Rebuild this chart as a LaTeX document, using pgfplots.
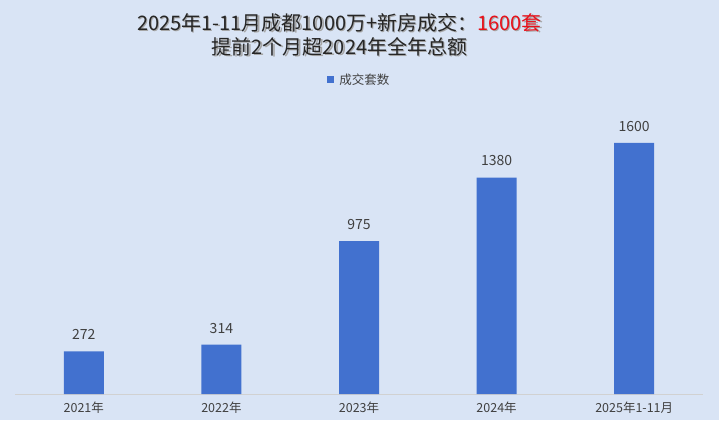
\documentclass[border=0pt]{standalone}
\usepackage{fontspec}
\setmainfont{Noto Sans CJK SC}
\usepackage{pgfplots}
\pgfplotsset{compat=1.18}
\definecolor{bg}{HTML}{D9E4F5}
\definecolor{bar}{HTML}{4271CF}
\definecolor{txt}{HTML}{404040}
\definecolor{ttl}{HTML}{262626}
\definecolor{hl}{HTML}{E8101A}
\newcommand{\titleA}[1]{2025年1-11月成都1000万+新房成交：\textcolor{#1}{1600套}}
\begin{document}
\begin{tikzpicture}[x=1pt,y=1pt]
\fill[bg] (0,0) rectangle (719,420);
% title with a soft shadow
\node[font=\fontsize{20}{23}\selectfont, text=black!35] at (340.8,396.2) {\titleA{black!35}};
\node[font=\fontsize{20}{23}\selectfont, text=black!35] at (340.8,372.2) {提前2个月超2024年全年总额};
\node[font=\fontsize{20}{23}\selectfont, text=ttl] at (339.5,397)
  {2025年1-11月成都1000万+新房成交：\textcolor{hl}{1600套}};
\node[font=\fontsize{20}{23}\selectfont, text=ttl] at (339.5,373)
  {提前2个月超2024年全年总额};
\begin{axis}[
  at={(15pt,26pt)}, anchor=south west,
  scale only axis, width=688pt, height=251pt,
  ymin=0, ymax=1600,
  xmin=-0.5, xmax=4.5,
  axis y line=none,
  axis x line*=bottom,
  x axis line style={draw=black!18, line width=0.8pt, -},
  xtick={0,1,2,3,4},
  xticklabels={2021年,2022年,2023年,2024年,2025年1-11月},
  major tick length=0pt,
  xticklabel style={font=\fontsize{12.5}{14}\selectfont, text=txt, yshift=-4pt},
  ybar, bar width=40pt,
  nodes near coords,
  /pgf/number format/assume math mode=true,
  /pgf/number format/1000 sep={},
  every node near coord/.append style={font=\fontsize{14}{16}\selectfont, text=txt, yshift=8pt},
  clip=false,
  legend style={at={(0.5,1.251)}, anchor=center, draw=none, fill=none,
    font=\fontsize{12.5}{14}\selectfont, text=txt, legend columns=1},
  legend image code/.code={\fill[bar] (0cm,-3.5pt) rectangle (7.5pt,4pt);},
]
\addplot[fill=bar, draw=none] coordinates {(0,272) (1,314) (2,975) (3,1380) (4,1600)};
\addlegendentry{\hspace{3pt}成交套数}
\end{axis}
\end{tikzpicture}
\end{document}
